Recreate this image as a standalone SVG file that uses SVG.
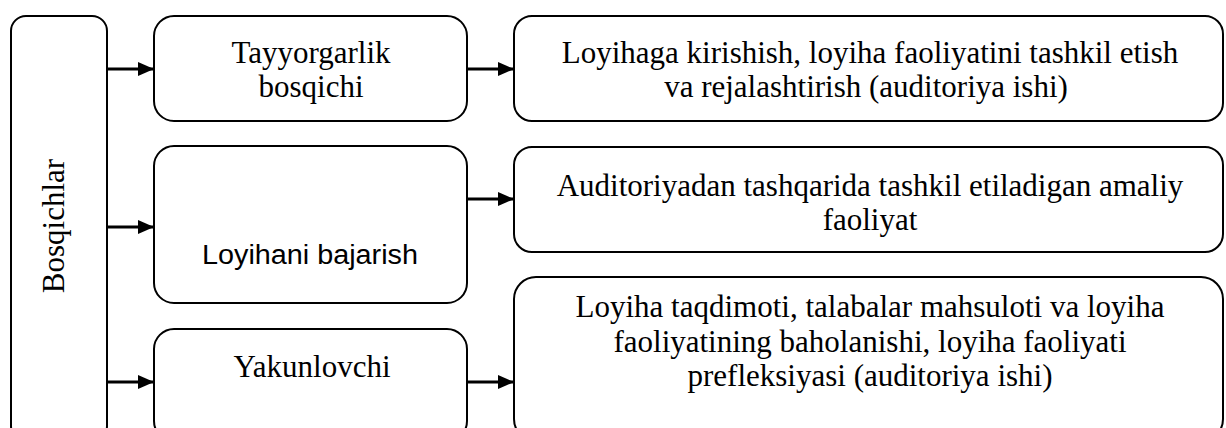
<svg xmlns="http://www.w3.org/2000/svg" width="1226" height="428" viewBox="0 0 1226 428">
<style>
.box{fill:#fff;stroke:#000;stroke-width:2}
.t{font-family:"Liberation Serif","Times New Roman",serif;font-size:31px;fill:#000;text-anchor:middle}
.s{font-family:"Liberation Sans",Arial,sans-serif;font-size:27px;fill:#000;text-anchor:middle}
.c{stroke:#000;stroke-width:3;fill:none}
</style>
<defs>
<marker id="ah" markerUnits="userSpaceOnUse" markerWidth="16" markerHeight="14" refX="16" refY="7" orient="auto">
<path d="M0,0 L16,7 L0,14 Z" fill="#000"/>
</marker>
</defs>
<rect width="1226" height="428" fill="#fff"/>
<g id="connectors">
<line class="c" x1="107" y1="69" x2="154" y2="69" marker-end="url(#ah)"/>
<line class="c" x1="107" y1="227" x2="154" y2="227" marker-end="url(#ah)"/>
<line class="c" x1="107" y1="382" x2="154" y2="382" marker-end="url(#ah)"/>
<line class="c" x1="467" y1="69" x2="514" y2="69" marker-end="url(#ah)"/>
<line class="c" x1="467" y1="199" x2="514" y2="199" marker-end="url(#ah)"/>
<line class="c" x1="467" y1="382" x2="514" y2="382" marker-end="url(#ah)"/>
</g>
<g id="bosqichlar">
<rect class="box" x="11" y="16" width="96" height="425" rx="15"/>
<text class="t" font-size="29" transform="translate(64,226) rotate(-90)">Bosqichlar</text>
</g>
<g id="tayyorgarlik">
<rect class="box" x="154" y="16" width="313" height="105" rx="20"/>
<text class="t" x="311" y="63">Tayyorgarlik</text>
<text class="t" x="311" y="97">bosqichi</text>
</g>
<g id="bajarish">
<rect class="box" x="154" y="146" width="313" height="157" rx="20"/>
<text class="s" x="310" y="264" textLength="216" lengthAdjust="spacingAndGlyphs">Loyihani bajarish</text>
</g>
<g id="yakunlovchi">
<rect class="box" x="154" y="329" width="313" height="112" rx="20"/>
<text class="t" x="312" y="377">Yakunlovchi</text>
</g>
<g id="r1">
<rect class="box" x="514" y="16" width="709" height="105" rx="18"/>
<text class="t" x="870" y="63">Loyihaga kirishish, loyiha faoliyatini tashkil etish</text>
<text class="t" x="866" y="97">va rejalashtirish (auditoriya ishi)</text>
</g>
<g id="r2">
<rect class="box" x="514" y="147" width="709" height="105" rx="18"/>
<text class="t" x="870" y="196">Auditoriyadan tashqarida tashkil etiladigan amaliy</text>
<text class="t" x="870" y="230">faoliyat</text>
</g>
<g id="r3">
<rect class="box" x="514" y="277" width="709" height="164" rx="22"/>
<text class="t" x="870" y="317">Loyiha taqdimoti, talabalar mahsuloti va loyiha</text>
<text class="t" x="870" y="352">faoliyatining baholanishi, loyiha faoliyati</text>
<text class="t" x="870" y="386">prefleksiyasi (auditoriya ishi)</text>
</g>
</svg>
